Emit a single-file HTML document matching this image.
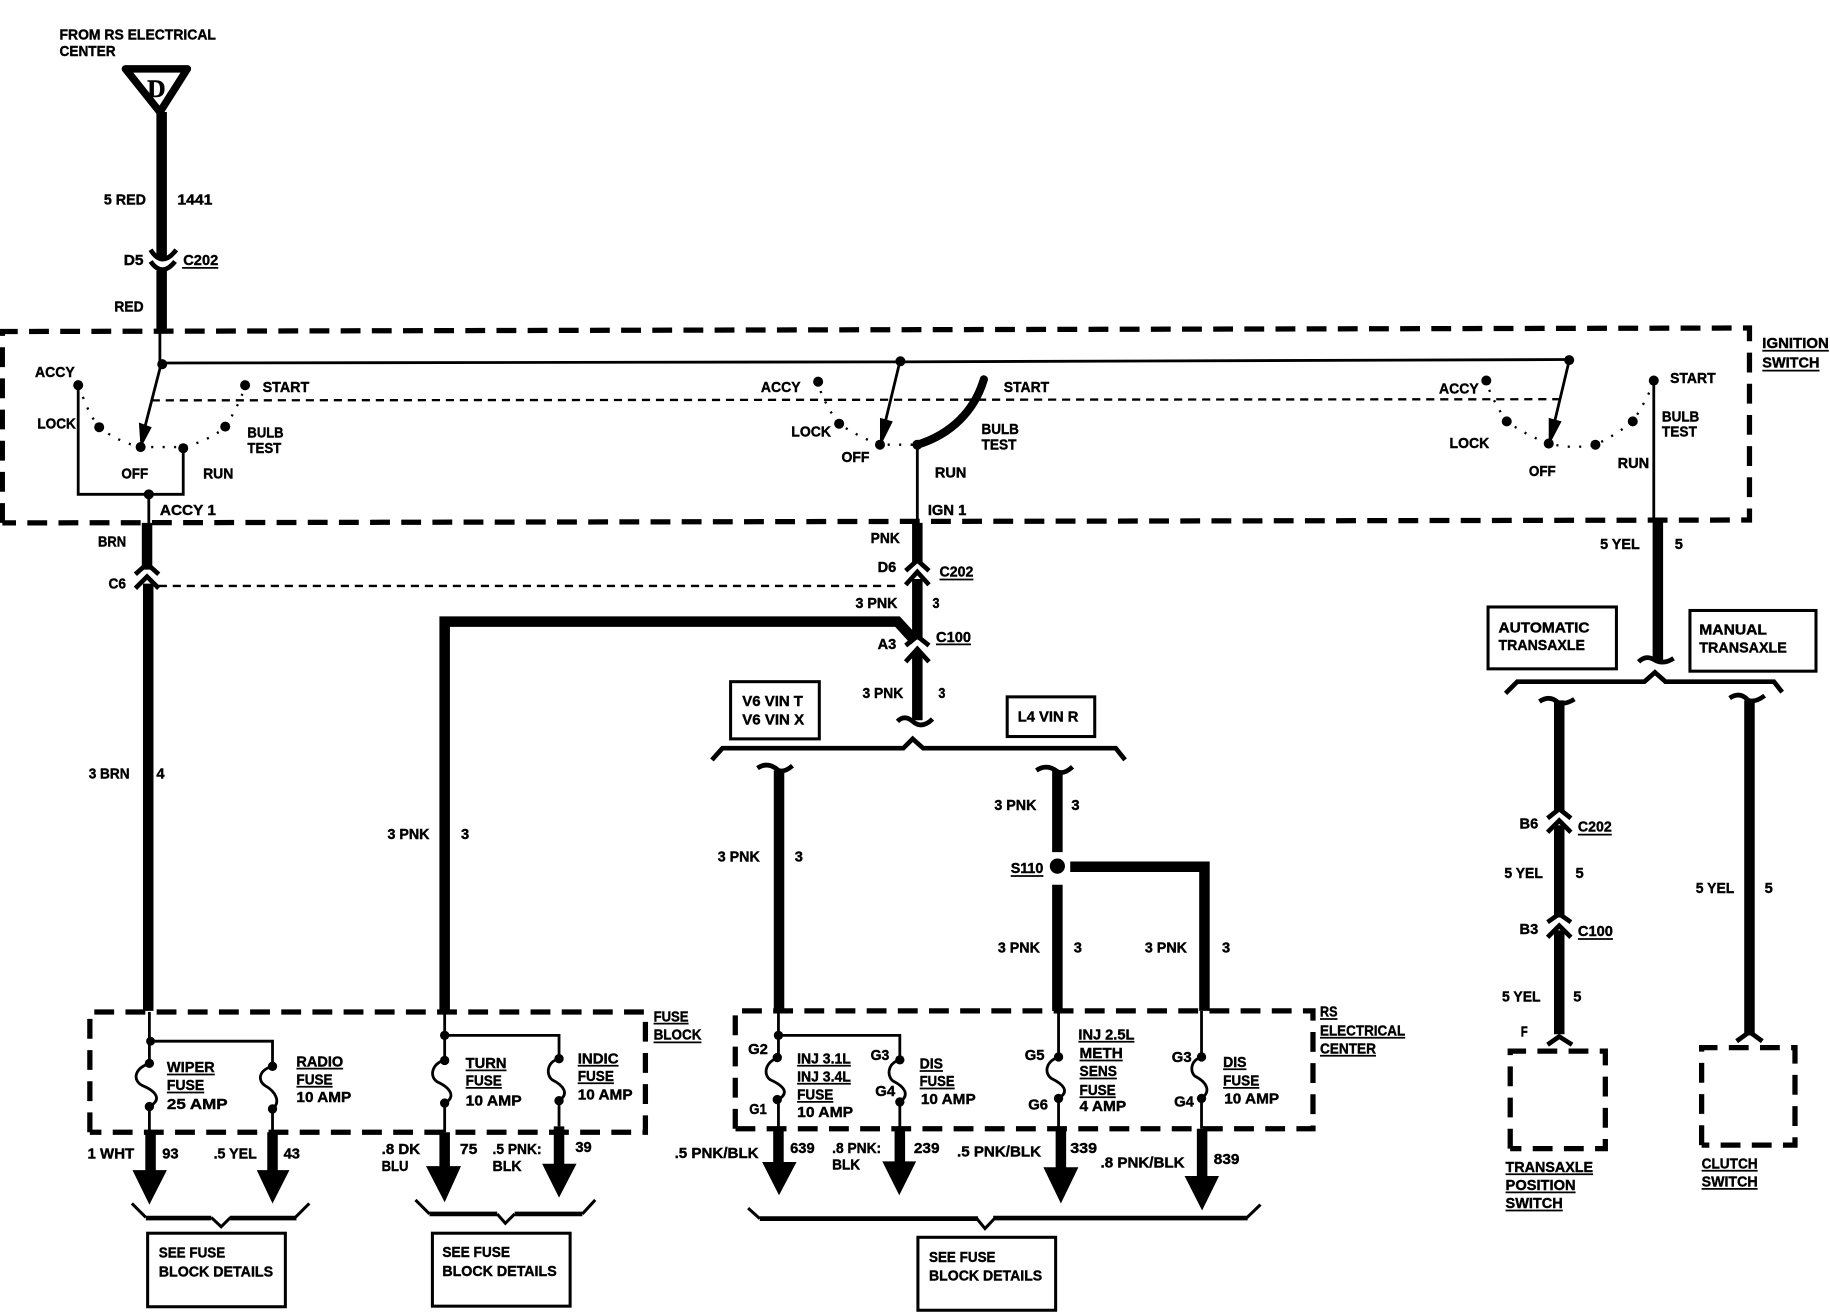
<!DOCTYPE html>
<html><head><meta charset="utf-8"><style>
html,body{margin:0;padding:0;background:#fff}
svg{display:block}
text{font-family:"Liberation Sans",sans-serif;font-weight:bold;font-size:12.5px;fill:#000;stroke:#000;stroke-width:.35}
.t{fill:none;stroke:#000;stroke-width:2.4}
.w{fill:none;stroke:#000;stroke-width:9}
.c{fill:none;stroke:#000;stroke-width:4}
.b{fill:none;stroke:#000;stroke-width:4}
.k{fill:none;stroke:#000;stroke-width:2.6}
.d{fill:none;stroke:#000;stroke-width:4.5;stroke-dasharray:17 9.7}
.h{fill:none;stroke:#000;stroke-width:2;stroke-dasharray:7 5}
.o{fill:none;stroke:#000;stroke-width:2;stroke-dasharray:1.8 8}
.u{fill:none;stroke:#000;stroke-width:1.5}
</style></head><body>
<svg width="1830" height="1312" viewBox="0 0 1568 1124" preserveAspectRatio="none" xmlns="http://www.w3.org/2000/svg">
<rect width="1568" height="1124" fill="#fff"/>

<!-- dashed boxes -->
<path class="d" d="M2,448 V284 L1499,281 V445.500 L2,448"/>
<path class="d" d="M77,970 V867 H553 V970 H77"/>
<path class="d" d="M630,967 V866 H1125 V967 H630"/>
<path class="d" d="M1294,984 V900.500 H1375.500 V984 H1294"/>
<path class="d" d="M1458,981 V897.500 H1538 V981 H1458"/>
<path class="h" d="M130,343 L1336,342"/>
<path class="h" d="M136,502 H772"/>

<!-- source -->
<path fill="none" stroke="#000" stroke-width="6.5" stroke-linejoin="round" d="M107.500,59 H160.500 L137,96 Z"/>
<text x="134" y="83" text-anchor="middle" style="font-family:'Liberation Serif',serif;font-size:22px">D</text>
<path class="w" d="M138.500,96 V222 M138.500,232 V284"/>
<path class="c" d="M129,214 Q139,230 151,214 M129,224 Q139,238 150,224"/>

<!-- top switch bus -->
<path class="t" d="M137,284 V312 M138,311 L771,310 L1345,308"/>
<circle cx="139" cy="312" r="4.300"/><circle cx="771.500" cy="309.500" r="4.300"/><circle cx="1344.500" cy="308.500" r="4.300"/>

<!-- left switch -->
<circle cx="67" cy="330" r="4.300"/><circle cx="85" cy="366" r="4.300"/><circle cx="120.500" cy="383" r="4.300"/><circle cx="157" cy="384" r="4.300"/><circle cx="193" cy="365.500" r="4.300"/><circle cx="210" cy="330" r="4.300"/><circle cx="127.500" cy="423.500" r="4.300"/>
<path class="t" d="M67,330 V423.500 H157 V384 M127.500,423 V448 M138,312 L121,378"/>
<polygon points="120.500,384 119,362 130,366"/>
<path class="o" d="M71,340 Q78,358 85,366 Q100,378 120,383 H157 Q178,378 193,366 Q203,350 209,334"/>

<!-- middle switch -->
<circle cx="701" cy="327" r="4.300"/><circle cx="719" cy="363" r="4.300"/><circle cx="754" cy="381" r="4.300"/><circle cx="786" cy="381" r="4.300"/>
<path class="t" d="M771,310 L755,376 M786,381 V448"/>
<polygon points="754,383 754,358 765,361"/>
<path class="o" d="M703,335 Q710,352 719,363 Q735,374 754,381 H784"/>
<path fill="none" stroke="#000" stroke-width="7" stroke-linecap="round" d="M786,381 C815,372 835,352 843,325"/>

<!-- right switch -->
<circle cx="1273.500" cy="326" r="4.300"/><circle cx="1291" cy="361" r="4.300"/><circle cx="1327" cy="380" r="4.300"/><circle cx="1367" cy="381" r="4.300"/><circle cx="1399" cy="361" r="4.300"/><circle cx="1417" cy="326" r="4.300"/>
<path class="t" d="M1344.500,309 L1329,374 M1417,326 V446"/>
<polygon points="1327,382 1327,358 1338,361"/>
<path class="o" d="M1276,334 Q1283,350 1291,361 Q1308,373 1327,380 Q1348,385 1367,381 Q1384,373 1399,361 Q1409,346 1415,332"/>

<!-- BRN wire -->
<path class="w" d="M126,448 V488 M127,500 V866"/>
<path class="c" d="M116,492 L126,483 L136,492 M116,504 L126,494 L136,504"/>

<!-- PNK wire -->
<path class="w" d="M786,448 V482 M786,496 V548 M786,558 V617"/>
<path class="c" d="M776,489 L786,480 L796,489 M776,501 L786,490 L796,501 M776,553 L786,545 L796,553 M776,567 L786,556 L796,567"/>
<path class="w" stroke-linejoin="miter" d="M381,866 V532.500 H769 L784,549"/>
<path class="c" d="M769,618 Q775,612 782,618 Q790,625 799,616"/>
<path class="b" d="M610,651 L619,641 H774 L782,633 L791,641 H956 L964,651"/>
<rect x="626" y="584" width="76" height="49" class="k"/>
<rect x="863" y="597" width="75" height="34" class="k"/>

<path class="w" d="M667.500,660 V866"/>
<path class="c" d="M649,658 Q658,652 667,660 Q672,662 679,656"/>
<path class="w" d="M906,660 V730 M906,758 V866"/>
<path class="c" d="M888,660 Q897,654 906,661 Q911,664 919,657"/>
<circle cx="906" cy="742" r="6.500"/>
<path class="w" stroke-width="8.500" d="M917,742.500 H1032 V866"/>

<!-- YEL wire -->
<path class="w" d="M1420.500,446 V566"/>
<path class="c" d="M1404,567 Q1410,561 1417,565 Q1425,570 1434,564"/>
<path class="b" d="M1290,594 L1300,584 H1409 L1418,576 L1427,584 H1520 L1527,593"/>
<rect x="1275" y="520" width="110" height="53" class="k"/>
<rect x="1448" y="523" width="108" height="52" class="k"/>

<path class="w" d="M1336,600 V695 M1336,707 V786 M1336,797 V886"/>
<path class="c" d="M1319,601 Q1328,595 1335,602 Q1341,604 1349,599"/>
<path class="c" d="M1326,701 L1336,693 L1346,701 M1326,713 L1336,703 L1346,713 M1326,790 L1336,783 L1346,790 M1326,803 L1336,793 L1346,803 M1326,895 L1336,888 L1347,895"/>
<path class="w" d="M1499,600 V887"/>
<path class="c" d="M1482,598 Q1491,592 1498,600 Q1504,602 1512,596 M1488,892 L1499,884 L1510,892"/>

<!-- fuse block internal -->
<path class="t" d="M128,867 V911 M128,948 V970 M129,892 H233.500 V913.500 M233.500,950 V970"/>
<path class="t" d="M128,911 C114,916 114,926 122,930 C134,935 139,942 128,948 M233.500,913.500 C221,917 221,926 227,930 C236,935 241,944 233.500,950"/>
<circle cx="129" cy="892" r="3.800"/><circle cx="128" cy="911" r="4"/><circle cx="128" cy="948" r="4"/><circle cx="233.500" cy="913.500" r="4"/><circle cx="233.500" cy="950" r="4"/>
<path class="t" d="M381,867 V908 M381,945 V970 M381,887 H479 V907 M479,943 V965"/>
<path class="t" d="M381,908 C369,912 368,923 375,927 C386,932 391,940 381,945 M479,907 C468,910 468,921 473,925 C483,930 488,937 479,943"/>
<circle cx="381" cy="887" r="4"/><circle cx="381" cy="908.500" r="4"/><circle cx="381" cy="945" r="4"/><circle cx="479" cy="907" r="4"/><circle cx="479" cy="943" r="4"/>

<path class="w" d="M129,970 V1004 M233.500,970 V1004 M381,970 V1000 M479,965 V998"/>
<polygon points="113.500,1002.500 143,1002.500 128,1032"/><polygon points="220,1002.500 248,1002.500 233.500,1031"/><polygon points="365,999 395,999 381,1030"/><polygon points="464.500,997 494,997 479,1026"/>
<path class="k" d="M113,1031 L125,1043 M253,1043 L265,1031 M356,1028 L368,1040 M499,1040 L510,1028 M181,1043 L189.500,1051 L197.500,1043 M426,1040 L433,1048 L441,1040"/>
<path class="b" d="M125,1043.500 H181 M197,1043.500 H254 M368,1040 H426 M441,1040 H499"/>
<rect x="126.500" y="1056.500" width="118" height="63" class="k"/>
<rect x="370.500" y="1056.500" width="118" height="62.500" class="k"/>

<!-- RS center internal -->
<path class="t" d="M667,866 V906 M667,942 V967 M667,887 H771 V908 M771,944 V967"/>
<path class="t" d="M667,906 C655,910 654,921 660,925 C671,930 677,936 667,942 M771,908 C760,911 760,922 765,926 C775,931 780,938 771,944"/>
<circle cx="667" cy="887" r="4"/><circle cx="666" cy="906" r="4"/><circle cx="666" cy="942" r="4"/><circle cx="771" cy="908" r="4"/><circle cx="771" cy="944" r="4"/>
<path class="t" d="M907,866 V905.500 M907,941 V967 M1029.500,866 V905.500 M1029.500,941 V967"/>
<path class="t" d="M907,905.500 C895,910 895,920 901,924 C911,929 917,935 907,941 M1029.500,905.500 C1019,909 1020,919 1024,922 C1034,927 1038,935 1029.500,941"/>
<circle cx="907" cy="905.500" r="4"/><circle cx="907" cy="941" r="4"/><circle cx="1029.500" cy="905.500" r="4"/><circle cx="1029.500" cy="941" r="4"/>

<path class="w" d="M667,967 V997 M771,967 V997 M909,967 V1002 M1030,967 V1009"/>
<polygon points="653,995.500 682.500,995.500 667.500,1024"/><polygon points="756,995 785,995 770.500,1024"/><polygon points="894,1000 924,1000 909,1031"/><polygon points="1015,1007.500 1044.500,1007.500 1030,1037"/>
<path class="k" d="M641,1035 L651,1044 M1068,1043.500 L1080,1032 M837,1044 L844,1052.500 L852,1044"/>
<path class="b" d="M651,1044 H838 M851,1043.500 H1069"/>
<rect x="786.500" y="1060" width="118" height="62.500" class="k"/>

<!-- underlines -->
<path class="u" d="M156,229.500 H187 M805,496.500 H834 M802,552 H832 M866,750.500 H894 M1352,715 H1381 M1352,804.500 H1382 M1510,300.500 H1567 M1510,317.500 H1559 M143,920.500 H184 M143,936 H175 M254,915.500 H294 M254,931 H285 M399,917 H434 M399,932 H430 M495,913 H530 M495,928 H526 M560,877 H590 M560,893 H601 M683,913 H729 M683,928.500 H729 M683,944 H714 M788,917.500 H808 M788,932.500 H818 M924,892.500 H972 M925,908.500 H962 M925,924 H957 M925,940 H956 M1048,916 H1068 M1048,932 H1079 M1131,873 H1146 M1131,889 H1204 M1131,904.500 H1179 M1290,1006 H1365 M1290,1021.500 H1350 M1290,1037 H1339 M1458,1003 H1506 M1458,1018.500 H1506"/>

<!-- labels -->
<text x="51" y="34" textLength="134" lengthAdjust="spacingAndGlyphs">FROM RS ELECTRICAL</text>
<text x="51" y="48" textLength="48" lengthAdjust="spacingAndGlyphs">CENTER</text>
<text x="89" y="175" textLength="36" lengthAdjust="spacingAndGlyphs">5 RED</text>
<text x="152" y="175" textLength="30" lengthAdjust="spacingAndGlyphs">1441</text>
<text x="106" y="227" textLength="17" lengthAdjust="spacingAndGlyphs">D5</text>
<text x="157" y="227" textLength="30" lengthAdjust="spacingAndGlyphs">C202</text>
<text x="98" y="267" textLength="25" lengthAdjust="spacingAndGlyphs">RED</text>
<text x="30" y="323" textLength="34" lengthAdjust="spacingAndGlyphs">ACCY</text>
<text x="32" y="367" textLength="33" lengthAdjust="spacingAndGlyphs">LOCK</text>
<text x="225" y="336" textLength="40" lengthAdjust="spacingAndGlyphs">START</text>
<text x="212" y="375" textLength="31" lengthAdjust="spacingAndGlyphs">BULB</text>
<text x="212" y="388" textLength="29" lengthAdjust="spacingAndGlyphs">TEST</text>
<text x="104" y="410" textLength="23" lengthAdjust="spacingAndGlyphs">OFF</text>
<text x="174" y="410" textLength="26" lengthAdjust="spacingAndGlyphs">RUN</text>
<text x="137" y="441" textLength="48" lengthAdjust="spacingAndGlyphs">ACCY 1</text>
<text x="84" y="468" textLength="24" lengthAdjust="spacingAndGlyphs">BRN</text>
<text x="93" y="504" textLength="15" lengthAdjust="spacingAndGlyphs">C6</text>
<text x="76" y="667" textLength="35" lengthAdjust="spacingAndGlyphs">3 BRN</text>
<text x="134" y="667" textLength="7" lengthAdjust="spacingAndGlyphs">4</text>
<text x="332" y="719" textLength="36" lengthAdjust="spacingAndGlyphs">3 PNK</text>
<text x="395" y="719" textLength="7" lengthAdjust="spacingAndGlyphs">3</text>

<text x="652" y="336" textLength="34" lengthAdjust="spacingAndGlyphs">ACCY</text>
<text x="678" y="374" textLength="34" lengthAdjust="spacingAndGlyphs">LOCK</text>
<text x="721" y="396" textLength="24" lengthAdjust="spacingAndGlyphs">OFF</text>
<text x="860" y="336" textLength="39" lengthAdjust="spacingAndGlyphs">START</text>
<text x="841" y="372" textLength="32" lengthAdjust="spacingAndGlyphs">BULB</text>
<text x="841" y="385" textLength="30" lengthAdjust="spacingAndGlyphs">TEST</text>
<text x="801" y="409" textLength="27" lengthAdjust="spacingAndGlyphs">RUN</text>
<text x="795" y="441" textLength="33" lengthAdjust="spacingAndGlyphs">IGN 1</text>
<text x="746" y="465" textLength="25" lengthAdjust="spacingAndGlyphs">PNK</text>
<text x="752" y="490" textLength="16" lengthAdjust="spacingAndGlyphs">D6</text>
<text x="805" y="494" textLength="29" lengthAdjust="spacingAndGlyphs">C202</text>
<text x="733" y="521" textLength="36" lengthAdjust="spacingAndGlyphs">3 PNK</text>
<text x="799" y="521" textLength="6" lengthAdjust="spacingAndGlyphs">3</text>
<text x="802" y="550" textLength="30" lengthAdjust="spacingAndGlyphs">C100</text>
<text x="752" y="556" textLength="16" lengthAdjust="spacingAndGlyphs">A3</text>
<text x="739" y="598" textLength="35" lengthAdjust="spacingAndGlyphs">3 PNK</text>
<text x="804" y="598" textLength="6" lengthAdjust="spacingAndGlyphs">3</text>
<text x="636" y="605" textLength="52" lengthAdjust="spacingAndGlyphs">V6 VIN T</text>
<text x="636" y="620.500" textLength="53" lengthAdjust="spacingAndGlyphs">V6 VIN X</text>
<text x="872" y="618" textLength="52" lengthAdjust="spacingAndGlyphs">L4 VIN R</text>
<text x="615" y="738" textLength="36" lengthAdjust="spacingAndGlyphs">3 PNK</text>
<text x="681" y="738" textLength="7" lengthAdjust="spacingAndGlyphs">3</text>
<text x="852" y="694" textLength="36" lengthAdjust="spacingAndGlyphs">3 PNK</text>
<text x="918" y="694" textLength="7" lengthAdjust="spacingAndGlyphs">3</text>
<text x="866" y="748" textLength="28" lengthAdjust="spacingAndGlyphs">S110</text>
<text x="855" y="816" textLength="36" lengthAdjust="spacingAndGlyphs">3 PNK</text>
<text x="920" y="816" textLength="7" lengthAdjust="spacingAndGlyphs">3</text>
<text x="981" y="816" textLength="36" lengthAdjust="spacingAndGlyphs">3 PNK</text>
<text x="1047" y="816" textLength="7" lengthAdjust="spacingAndGlyphs">3</text>

<text x="1233" y="337" textLength="34" lengthAdjust="spacingAndGlyphs">ACCY</text>
<text x="1242" y="384" textLength="34" lengthAdjust="spacingAndGlyphs">LOCK</text>
<text x="1310" y="408" textLength="23" lengthAdjust="spacingAndGlyphs">OFF</text>
<text x="1431" y="328" textLength="39" lengthAdjust="spacingAndGlyphs">START</text>
<text x="1424" y="361" textLength="32" lengthAdjust="spacingAndGlyphs">BULB</text>
<text x="1424" y="374" textLength="30" lengthAdjust="spacingAndGlyphs">TEST</text>
<text x="1386" y="401" textLength="27" lengthAdjust="spacingAndGlyphs">RUN</text>
<text x="1510" y="298" textLength="57" lengthAdjust="spacingAndGlyphs">IGNITION</text>
<text x="1510" y="315" textLength="49" lengthAdjust="spacingAndGlyphs">SWITCH</text>
<text x="1371" y="470.500" textLength="34" lengthAdjust="spacingAndGlyphs">5 YEL</text>
<text x="1435" y="470.500" textLength="7" lengthAdjust="spacingAndGlyphs">5</text>
<text x="1284" y="542" textLength="78" lengthAdjust="spacingAndGlyphs">AUTOMATIC</text>
<text x="1284" y="557" textLength="74" lengthAdjust="spacingAndGlyphs">TRANSAXLE</text>
<text x="1456" y="543.500" textLength="58" lengthAdjust="spacingAndGlyphs">MANUAL</text>
<text x="1456" y="559" textLength="75" lengthAdjust="spacingAndGlyphs">TRANSAXLE</text>

<text x="1302" y="710" textLength="16" lengthAdjust="spacingAndGlyphs">B6</text>
<text x="1352" y="712.500" textLength="29" lengthAdjust="spacingAndGlyphs">C202</text>
<text x="1289" y="752" textLength="33" lengthAdjust="spacingAndGlyphs">5 YEL</text>
<text x="1350" y="752" textLength="7" lengthAdjust="spacingAndGlyphs">5</text>
<text x="1453" y="765" textLength="33" lengthAdjust="spacingAndGlyphs">5 YEL</text>
<text x="1512" y="765" textLength="7" lengthAdjust="spacingAndGlyphs">5</text>
<text x="1302" y="800" textLength="16" lengthAdjust="spacingAndGlyphs">B3</text>
<text x="1352" y="802" textLength="30" lengthAdjust="spacingAndGlyphs">C100</text>
<text x="1287" y="858" textLength="33" lengthAdjust="spacingAndGlyphs">5 YEL</text>
<text x="1348" y="858" textLength="7" lengthAdjust="spacingAndGlyphs">5</text>
<text x="1303" y="888" textLength="6" lengthAdjust="spacingAndGlyphs">F</text>
<text x="1290" y="1004" textLength="75" lengthAdjust="spacingAndGlyphs">TRANSAXLE</text>
<text x="1290" y="1019.500" textLength="60" lengthAdjust="spacingAndGlyphs">POSITION</text>
<text x="1290" y="1035" textLength="49" lengthAdjust="spacingAndGlyphs">SWITCH</text>
<text x="1458" y="1001" textLength="48" lengthAdjust="spacingAndGlyphs">CLUTCH</text>
<text x="1458" y="1016.500" textLength="48" lengthAdjust="spacingAndGlyphs">SWITCH</text>

<text x="143" y="918.500" textLength="41" lengthAdjust="spacingAndGlyphs">WIPER</text>
<text x="143" y="934" textLength="32" lengthAdjust="spacingAndGlyphs">FUSE</text>
<text x="143" y="950" textLength="52" lengthAdjust="spacingAndGlyphs">25 AMP</text>
<text x="254" y="913.500" textLength="40" lengthAdjust="spacingAndGlyphs">RADIO</text>
<text x="254" y="929" textLength="31" lengthAdjust="spacingAndGlyphs">FUSE</text>
<text x="254" y="944" textLength="47" lengthAdjust="spacingAndGlyphs">10 AMP</text>
<text x="399" y="915" textLength="35" lengthAdjust="spacingAndGlyphs">TURN</text>
<text x="399" y="930" textLength="31" lengthAdjust="spacingAndGlyphs">FUSE</text>
<text x="399" y="947" textLength="48" lengthAdjust="spacingAndGlyphs">10 AMP</text>
<text x="495" y="911" textLength="35" lengthAdjust="spacingAndGlyphs">INDIC</text>
<text x="495" y="926" textLength="31" lengthAdjust="spacingAndGlyphs">FUSE</text>
<text x="495" y="942" textLength="47" lengthAdjust="spacingAndGlyphs">10 AMP</text>
<text x="560" y="875" textLength="30" lengthAdjust="spacingAndGlyphs">FUSE</text>
<text x="560" y="890.500" textLength="41" lengthAdjust="spacingAndGlyphs">BLOCK</text>

<text x="75" y="992.500" textLength="40" lengthAdjust="spacingAndGlyphs">1 WHT</text>
<text x="139" y="992.500" textLength="14" lengthAdjust="spacingAndGlyphs">93</text>
<text x="183" y="992.500" textLength="37" lengthAdjust="spacingAndGlyphs">.5 YEL</text>
<text x="243" y="992.500" textLength="14" lengthAdjust="spacingAndGlyphs">43</text>
<text x="327" y="988.500" textLength="33" lengthAdjust="spacingAndGlyphs">.8 DK</text>
<text x="327" y="1003" textLength="23" lengthAdjust="spacingAndGlyphs">BLU</text>
<text x="394" y="988.500" textLength="15" lengthAdjust="spacingAndGlyphs">75</text>
<text x="422" y="988.500" textLength="42" lengthAdjust="spacingAndGlyphs">.5 PNK:</text>
<text x="422" y="1003" textLength="25" lengthAdjust="spacingAndGlyphs">BLK</text>
<text x="493" y="987" textLength="14" lengthAdjust="spacingAndGlyphs">39</text>
<text x="136" y="1077.500" textLength="57" lengthAdjust="spacingAndGlyphs">SEE FUSE</text>
<text x="136" y="1093.500" textLength="98" lengthAdjust="spacingAndGlyphs">BLOCK DETAILS</text>
<text x="379" y="1077" textLength="58" lengthAdjust="spacingAndGlyphs">SEE FUSE</text>
<text x="379" y="1093" textLength="98" lengthAdjust="spacingAndGlyphs">BLOCK DETAILS</text>

<text x="641" y="903" textLength="17" lengthAdjust="spacingAndGlyphs">G2</text>
<text x="642" y="954.500" textLength="15" lengthAdjust="spacingAndGlyphs">G1</text>
<text x="746" y="908" textLength="16" lengthAdjust="spacingAndGlyphs">G3</text>
<text x="750" y="939" textLength="17" lengthAdjust="spacingAndGlyphs">G4</text>
<text x="683" y="911" textLength="46" lengthAdjust="spacingAndGlyphs">INJ 3.1L</text>
<text x="683" y="926.500" textLength="46" lengthAdjust="spacingAndGlyphs">INJ 3.4L</text>
<text x="683" y="942" textLength="31" lengthAdjust="spacingAndGlyphs">FUSE</text>
<text x="683" y="957" textLength="48" lengthAdjust="spacingAndGlyphs">10 AMP</text>
<text x="788" y="915.500" textLength="20" lengthAdjust="spacingAndGlyphs">DIS</text>
<text x="788" y="930.500" textLength="30" lengthAdjust="spacingAndGlyphs">FUSE</text>
<text x="789" y="946" textLength="47" lengthAdjust="spacingAndGlyphs">10 AMP</text>
<text x="878" y="908" textLength="17" lengthAdjust="spacingAndGlyphs">G5</text>
<text x="881" y="950.500" textLength="17" lengthAdjust="spacingAndGlyphs">G6</text>
<text x="924" y="890.500" textLength="48" lengthAdjust="spacingAndGlyphs">INJ 2.5L</text>
<text x="925" y="906.500" textLength="37" lengthAdjust="spacingAndGlyphs">METH</text>
<text x="925" y="922" textLength="32" lengthAdjust="spacingAndGlyphs">SENS</text>
<text x="925" y="938" textLength="31" lengthAdjust="spacingAndGlyphs">FUSE</text>
<text x="925" y="952" textLength="40" lengthAdjust="spacingAndGlyphs">4 AMP</text>
<text x="1004" y="910" textLength="17" lengthAdjust="spacingAndGlyphs">G3</text>
<text x="1006" y="948" textLength="17" lengthAdjust="spacingAndGlyphs">G4</text>
<text x="1048" y="914" textLength="20" lengthAdjust="spacingAndGlyphs">DIS</text>
<text x="1048" y="930" textLength="31" lengthAdjust="spacingAndGlyphs">FUSE</text>
<text x="1049" y="945.500" textLength="47" lengthAdjust="spacingAndGlyphs">10 AMP</text>
<text x="1131" y="871" textLength="15" lengthAdjust="spacingAndGlyphs">RS</text>
<text x="1131" y="887" textLength="73" lengthAdjust="spacingAndGlyphs">ELECTRICAL</text>
<text x="1131" y="902.500" textLength="48" lengthAdjust="spacingAndGlyphs">CENTER</text>

<text x="578" y="992" textLength="72" lengthAdjust="spacingAndGlyphs">.5 PNK/BLK</text>
<text x="677" y="988" textLength="21" lengthAdjust="spacingAndGlyphs">639</text>
<text x="713" y="988" textLength="42" lengthAdjust="spacingAndGlyphs">.8 PNK:</text>
<text x="713" y="1002" textLength="24" lengthAdjust="spacingAndGlyphs">BLK</text>
<text x="783" y="988" textLength="22" lengthAdjust="spacingAndGlyphs">239</text>
<text x="820" y="991" textLength="72" lengthAdjust="spacingAndGlyphs">.5 PNK/BLK</text>
<text x="917" y="988" textLength="23" lengthAdjust="spacingAndGlyphs">339</text>
<text x="943" y="1000" textLength="72" lengthAdjust="spacingAndGlyphs">.8 PNK/BLK</text>
<text x="1040" y="997" textLength="22" lengthAdjust="spacingAndGlyphs">839</text>
<text x="796" y="1081" textLength="57" lengthAdjust="spacingAndGlyphs">SEE FUSE</text>
<text x="796" y="1097" textLength="97" lengthAdjust="spacingAndGlyphs">BLOCK DETAILS</text>
</svg>
</body></html>
